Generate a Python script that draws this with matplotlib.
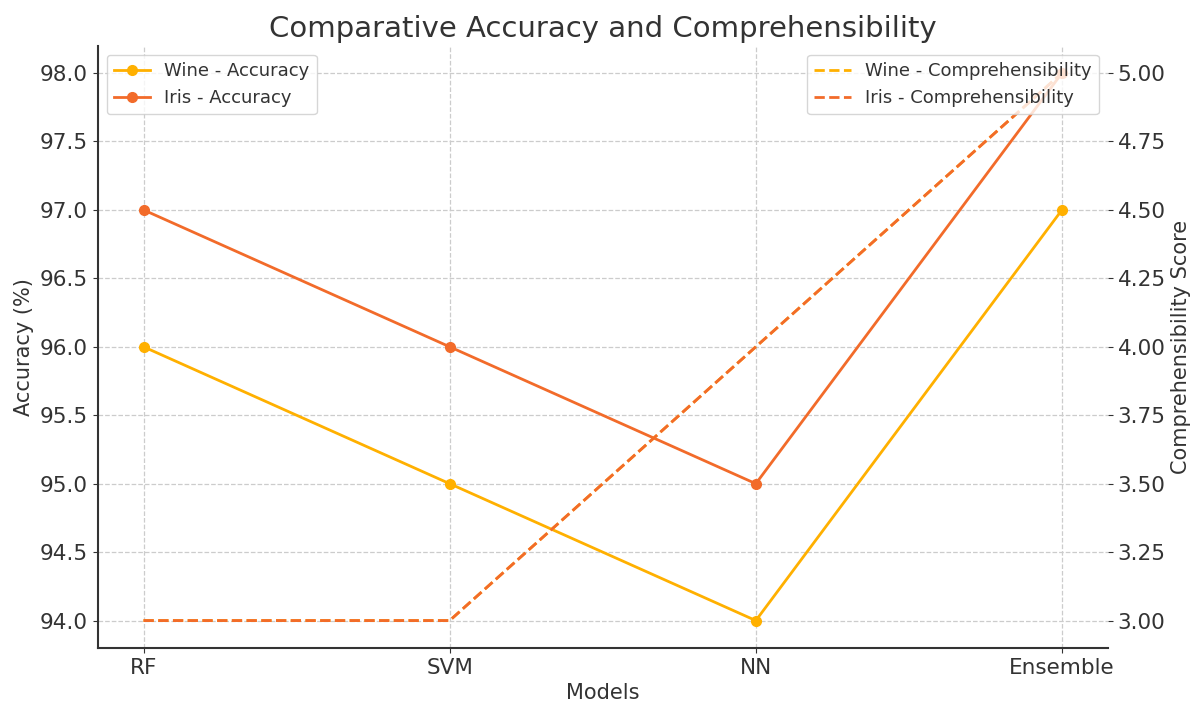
import matplotlib.pyplot as plt

# ========== 数据 ==========
models = ['RF', 'SVM', 'NN', 'Ensemble']
wine_accuracy = [96, 95, 94, 97]
iris_accuracy = [97, 96, 95, 98]
wine_comprehensibility = [3, 3, 4, 5]
iris_comprehensibility = [3, 3, 4, 5]

WINE_COLOR = '#FFB000'
IRIS_COLOR = '#F26B2A'
TEXT_COLOR = '#333333'

plt.rcParams['font.family'] = ['DejaVu Sans']
plt.rcParams['text.color'] = TEXT_COLOR
plt.rcParams['axes.labelcolor'] = TEXT_COLOR
plt.rcParams['xtick.color'] = TEXT_COLOR
plt.rcParams['ytick.color'] = TEXT_COLOR

fig, ax1 = plt.subplots(figsize=(11.9, 7.02), dpi=100)

ax1.plot(models, wine_accuracy, marker='o', color=WINE_COLOR, linewidth=2,
         markersize=7, label='Wine - Accuracy')
ax1.plot(models, iris_accuracy, marker='o', color=IRIS_COLOR, linewidth=2,
         markersize=7, label='Iris - Accuracy')
ax1.set_xlabel('Models', fontsize=15)
ax1.set_ylabel('Accuracy (%)', fontsize=15)
ax1.tick_params(axis='both', labelsize=15.5)
ax1.grid(True, linestyle='--', color='#cccccc', linewidth=0.9)
ax1.spines['top'].set_visible(False)
ax1.spines['right'].set_visible(False)
ax1.spines['left'].set_linewidth(1.5)
ax1.spines['bottom'].set_linewidth(1.5)
ax1.spines['left'].set_color(TEXT_COLOR)
ax1.spines['bottom'].set_color(TEXT_COLOR)

ax2 = ax1.twinx()
ax2.plot(models, wine_comprehensibility, linestyle='--', color=WINE_COLOR,
         linewidth=2, label='Wine - Comprehensibility')
ax2.plot(models, iris_comprehensibility, linestyle='--', color=IRIS_COLOR,
         linewidth=2, label='Iris - Comprehensibility')
ax2.set_ylabel('Comprehensibility Score', fontsize=15)
ax2.tick_params(axis='y', labelsize=15.5)
for s in ['top', 'right', 'left', 'bottom']:
    ax2.spines[s].set_visible(False)

ax1.legend(loc='upper left', fontsize=13)
ax2.legend(loc='upper right', fontsize=13)

ax1.set_title('Comparative Accuracy and Comprehensibility', fontsize=21)

fig.subplots_adjust(left=0.082, right=0.931, top=0.935, bottom=0.077)
plt.savefig('out.png', dpi=100)
plt.close()
